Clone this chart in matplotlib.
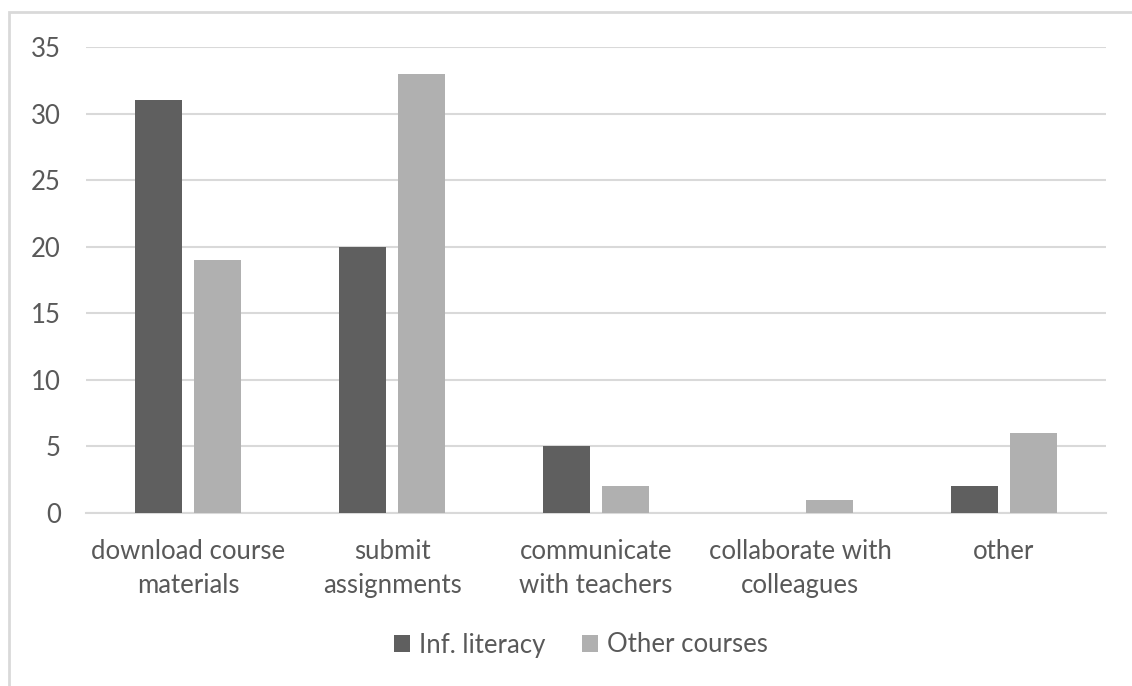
import matplotlib
matplotlib.use("Agg")
import matplotlib.pyplot as plt
import numpy as np
from matplotlib.patches import Rectangle

categories = ["download course\nmaterials", "submit\nassignments", "communicate\nwith teachers",
              "collaborate with\ncolleagues", "other"]
inf_literacy = [31, 20, 5, 0, 2]
other_courses = [19, 33, 2, 1, 6]
series_names = ["Inf. literacy", "Other courses"]
yticks = [0, 5, 10, 15, 20, 25, 30, 35]

plt.rcParams['font.family'] = ['Lato', 'DejaVu Sans']
text_color = '#595959'
dark = '#5f5f5f'
light = '#b0b0b0'
grid_c = '#d9d9d9'
fs = 18.5

fig = plt.figure(figsize=(11.32, 6.86), dpi=100)
W, H = 1132, 686
ax = fig.add_axes([86 / W, 1 - 513 / H, (1106 - 86) / W, (513 - 47) / H])

# outer border
fig.patches.append(Rectangle((9 / W, -0.1), 1.2, 1 - 12 / H + 0.1, transform=fig.transFigure,
                             fill=False, edgecolor='#d9d9d9', linewidth=2))

x = np.arange(len(categories))
bw = 47 / 204
off = 59 / 2 / 204
ax.bar(x - off, inf_literacy, width=bw, color=dark, label=series_names[0], zorder=3)
ax.bar(x + off, other_courses, width=bw, color=light, label=series_names[1], zorder=3)

ax.set_xlim(-0.5, len(categories) - 0.5)
ax.set_ylim(0, 35)
ax.set_yticks(yticks)
ax.yaxis.grid(True, color=grid_c, linewidth=1.5, zorder=0)
ax.set_axisbelow(True)
for s in ['top', 'right', 'left']:
    ax.spines[s].set_visible(False)
ax.spines['bottom'].set_color(grid_c)
ax.spines['bottom'].set_linewidth(1.5)
ax.tick_params(axis='both', length=0, labelsize=fs, labelcolor=text_color)
ax.tick_params(axis='y', pad=18)
ax.tick_params(axis='x', pad=19)
ax.set_xticks(x)
ax.set_xticklabels(categories, linespacing=1.45)

leg = fig.legend(loc='center', bbox_to_anchor=(581 / W, 1 - 645 / H), ncol=2, frameon=False,
                 fontsize=fs, handlelength=0.6, handleheight=0.6, handletextpad=0.35,
                 columnspacing=1.45)
for t in leg.get_texts():
    t.set_color(text_color)

fig.savefig("out.png", dpi=100)
